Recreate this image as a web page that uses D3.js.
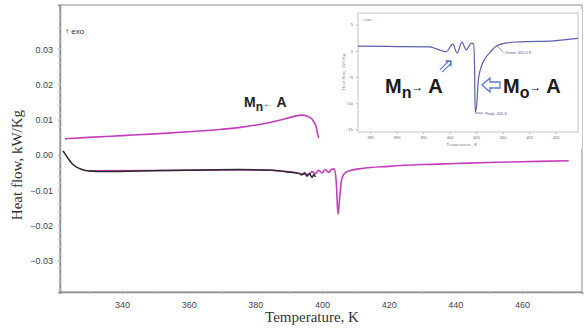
<!DOCTYPE html>
<html><head><meta charset="utf-8">
<script src="https://cdn.jsdelivr.net/npm/d3@7"></script>
<style>body{margin:0;background:#fff}svg{display:block}</style>
</head><body>
<svg id="c" width="584" height="328"></svg>
<script>
// ---------- data ----------
const xTickValues = [340, 360, 380, 400, 420, 440, 460];
const yTickValues = [-0.03, -0.02, -0.01, 0.00, 0.01, 0.02, 0.03];

// cooling curve (magenta, upper)
const coolTemp = [322.9, 330, 340, 350, 360, 370, 376, 382, 387.5, 391, 394, 396.5, 397.5, 398.3, 398.7, 399];
const coolFlow = [0.0046, 0.0050, 0.0055, 0.0060, 0.0066, 0.0073, 0.0079, 0.0088, 0.0099, 0.0108, 0.0113, 0.0106, 0.0095, 0.0078, 0.0060, 0.0048];

// first run (black)
const blackTemp = [322.3, 323, 324, 325, 326.5, 328, 330, 335, 345, 360, 375, 385, 390, 393, 394, 394.8, 395.5, 396.2, 397, 397.6, 398];
const blackFlow = [0.0012, 0.0002, -0.0012, -0.0024, -0.0035, -0.0041, -0.0045, -0.0047, -0.0045, -0.0043, -0.0041, -0.0043, -0.0048, -0.0052, -0.0056, -0.0050, -0.0060, -0.0052, -0.0063, -0.0055, -0.0062];

// heating curve (magenta, lower)
const heatTemp = [330, 350, 370, 385, 392, 396, 397, 398, 399, 400, 401, 402, 403, 403.8, 404.3, 404.8, 405.3, 405.8, 406.5, 408, 412, 420, 430, 440, 450, 460, 474];
const heatFlow = [-0.0045, -0.0044, -0.0042, -0.0043, -0.0050, -0.0055, -0.0047, -0.0053, -0.0043, -0.0051, -0.0041, -0.0049, -0.0040, -0.0040, -0.0080, -0.0168, -0.0120, -0.0075, -0.0055, -0.0045, -0.0038, -0.0032, -0.0027, -0.0024, -0.0021, -0.0019, -0.0016];

// inset curve
const insetXTicks = [385, 390, 395, 400, 405, 410, 415, 420];
const insetYTicks = [5, 0, -5, -10, -15];
const insetTemp = [382.7, 390, 396.3, 396.9, 398.5, 399.3, 400.6, 401.4, 402.3, 403.1, 404.1, 404.5, 404.7, 404.8, 405.1, 405.4, 405.9, 406.8, 407.7, 408.9, 410.8, 413.3, 419.6, 424.2];
const insetFlow = [0.9, 0.8, 0.75, 0.57, 0.0, -0.2, 1.26, -0.44, 1.64, 0.19, 1.45, 1.3, -3.6, -11.7, -10.2, -5.5, -3.2, -1.3, -0.2, 0.94, 1.5, 1.7, 1.9, 2.36];

// ---------- drawing ----------
const svg = d3.select("#c");
const W = 584, H = 328;
const m = {l: 60, r: 582, t: 5, b: 292};
const x = d3.scaleLinear().domain([321.4, 478]).range([m.l, m.r]);
const y = d3.scaleLinear().domain([-0.0388, 0.0425]).range([m.b, m.t]);

svg.append("rect").attr("width", W).attr("height", H).attr("fill", "#fff");

// frame
svg.append("rect").attr("x", m.l).attr("y", m.t).attr("width", m.r - m.l).attr("height", m.b - m.t)
  .attr("fill", "none").attr("stroke", "#a0a0a0").attr("stroke-width", 1.2);

// x axis
const xAxis = d3.axisBottom(x).tickValues(xTickValues).tickSize(2).tickPadding(8).tickFormat(d3.format("d"));
const gx = svg.append("g").attr("transform", `translate(0,${m.b})`).call(xAxis);
gx.select(".domain").attr("stroke", "#909090").attr("stroke-width", 1.5);
gx.selectAll(".tick line").attr("stroke", "#aaa");
gx.selectAll("text").attr("font-family", "Arial, Liberation Sans, sans-serif").attr("font-size", 9).attr("fill", "#444");
const xMinor = d3.range(330, 478, 10).filter(v => v % 20 !== 0);
svg.append("g").selectAll("line").data(xMinor).join("line")
  .attr("x1", d => x(d)).attr("x2", d => x(d)).attr("y1", m.b - 1).attr("y2", m.b + 2).attr("stroke", "#bbb");

// y axis
const yAxis = d3.axisLeft(y).tickValues(yTickValues).tickSize(2).tickPadding(5).tickFormat(d3.format(".2f"));
const gy = svg.append("g").attr("transform", `translate(${m.l},0)`).call(yAxis);
gy.select(".domain").attr("stroke", "#909090").attr("stroke-width", 1.5);
gy.selectAll(".tick line").attr("stroke", "#aaa");
gy.selectAll("text").attr("font-family", "Arial, Liberation Sans, sans-serif").attr("font-size", 9).attr("fill", "#444");
const yMinor = d3.range(-0.038, 0.042, 0.002);
svg.append("g").selectAll("line").data(yMinor).join("line")
  .attr("x1", m.l - 2).attr("x2", m.l + 1).attr("y1", d => y(d)).attr("y2", d => y(d)).attr("stroke", "#c8c8c8");

// axis titles
svg.append("text").attr("transform", `translate(22,165) rotate(-90)`).attr("text-anchor", "middle")
  .attr("font-family", "Liberation Serif, Times New Roman, serif").attr("font-size", 15).attr("fill", "#333")
  .text("Heat flow, kW/Kg");
svg.append("text").attr("x", 312).attr("y", 322).attr("text-anchor", "middle")
  .attr("font-family", "Liberation Serif, Times New Roman, serif").attr("font-size", 15).attr("fill", "#333")
  .text("Temperature, K");

svg.append("text").attr("x", 65).attr("y", 34).attr("font-family", "Arial, sans-serif").attr("font-size", 8).attr("fill", "#333").text("↑ exo");

// curves
const line = d3.line().x(d => x(d[0])).y(d => y(d[1])).curve(d3.curveMonotoneX);
const zipped = (a, b) => a.map((t, i) => [t, b[i]]);
svg.append("path").datum(zipped(heatTemp, heatFlow)).attr("d", line)
  .attr("fill", "none").attr("stroke", "#c63cbd").attr("stroke-width", 1.6);
svg.append("path").datum(zipped(blackTemp, blackFlow)).attr("d", line)
  .attr("fill", "none").attr("stroke", "#2a2a2a").attr("stroke-width", 1.5);
svg.append("path").datum(zipped(coolTemp, coolFlow)).attr("d", line)
  .attr("fill", "none").attr("stroke", "#c63cbd").attr("stroke-width", 1.6);

// Mn <- A label
const lab1 = svg.append("text").attr("x", 244).attr("y", 107).attr("font-family", "Arial, Liberation Sans, sans-serif")
  .attr("font-weight", "bold").attr("font-size", 14).attr("fill", "#222");
lab1.append("tspan").text("M");
lab1.append("tspan").attr("dy", 4).attr("font-size", 12).text("n");
lab1.append("tspan").attr("dy", -4).attr("font-size", 10).text("←");
lab1.append("tspan").attr("font-size", 14).text(" A");

// ---------- inset ----------
const ix = d3.scaleLinear().domain([382.7, 424.2]).range([358, 578]);
const iy = d3.scaleLinear().domain([-15.5, 7.2]).range([132, 13]);
svg.append("rect").attr("x", 336).attr("y", 9).attr("width", 246).attr("height", 140).attr("fill", "#fff");
svg.append("rect").attr("x", 358).attr("y", 13).attr("width", 220).attr("height", 119)
  .attr("fill", "none").attr("stroke", "#c4c4c4").attr("stroke-width", 1);
const ixa = svg.append("g").attr("transform", "translate(0,132)")
  .call(d3.axisBottom(ix).tickValues(insetXTicks).tickSize(2).tickPadding(2).tickFormat(d3.format("d")));
ixa.select(".domain").remove();
ixa.selectAll(".tick line").attr("stroke", "#bbb");
ixa.selectAll("text").attr("font-family", "Arial, sans-serif").attr("font-size", 4).attr("fill", "#666");
const iya = svg.append("g").attr("transform", "translate(358,0)")
  .call(d3.axisLeft(iy).tickValues(insetYTicks).tickSize(2).tickPadding(3));
iya.select(".domain").remove();
iya.selectAll(".tick line").attr("stroke", "#bbb");
iya.selectAll("text").attr("font-family", "Arial, sans-serif").attr("font-size", 4).attr("fill", "#666");
svg.append("text").attr("transform", "translate(345,72) rotate(-90)").attr("text-anchor", "middle")
  .attr("font-family", "Liberation Serif, serif").attr("font-size", 5).attr("fill", "#888").text("Heat flow, kW/Kg");
svg.append("text").attr("x", 462).attr("y", 146).attr("text-anchor", "middle")
  .attr("font-family", "Liberation Serif, serif").attr("font-size", 5).attr("fill", "#888").text("Temperature, K");
svg.append("text").attr("x", 362).attr("y", 21).attr("font-family", "Arial, sans-serif").attr("font-size", 4).attr("fill", "#777").text("↑ exo");

const iline = d3.line().x(d => ix(d[0])).y(d => iy(d[1])).curve(d3.curveMonotoneX);
svg.append("path").datum(zipped(insetTemp, insetFlow)).attr("d", iline)
  .attr("fill", "none").attr("stroke", "#5b5fae").attr("stroke-width", 1.2);

// peak / onset markers
const pk = [404.8, -11.7];
svg.append("line").attr("x1", ix(pk[0])).attr("x2", ix(pk[0]) + 8).attr("y1", iy(pk[1]) + 1).attr("y2", iy(pk[1]) + 1)
  .attr("stroke", "#5b5fae").attr("stroke-width", 0.8);
svg.append("text").attr("x", ix(pk[0]) + 10).attr("y", iy(pk[1]) + 3).attr("font-family", "Arial, sans-serif")
  .attr("font-size", 4).attr("fill", "#4a4e9e").text("Peak: 405.3");
svg.append("line").attr("x1", ix(408.9)).attr("x2", ix(410.2)).attr("y1", iy(0.9)).attr("y2", iy(-0.3))
  .attr("stroke", "#5b5fae").attr("stroke-width", 0.6);
svg.append("text").attr("x", ix(410.4)).attr("y", iy(-0.6)).attr("font-family", "Arial, sans-serif")
  .attr("font-size", 4).attr("fill", "#4a4e9e").text("Onset: 405.5 K");

// inset big labels
function bigLabel(xp, yp, sub) {
  const t = svg.append("text").attr("x", xp).attr("y", yp).attr("font-family", "Arial, Liberation Sans, sans-serif")
    .attr("font-weight", "bold").attr("font-size", 20).attr("fill", "#1a1a1a");
  t.append("tspan").text("M");
  t.append("tspan").attr("dy", 5).attr("font-size", 16).text(sub);
  t.append("tspan").attr("dy", -7).attr("font-size", 12).text("→");
  t.append("tspan").attr("dy", 2).attr("font-size", 20).text(" A");
}
bigLabel(385, 93, "n");
bigLabel(503, 93, "o");

// hollow arrows
svg.append("path")
  .attr("d", "M482,85 L490,78 L490,82 L500,82 L500,88 L490,88 L490,92 Z")
  .attr("fill", "#fff").attr("stroke", "#5d78cf").attr("stroke-width", 1.3).attr("stroke-linejoin", "miter");
svg.append("text").attr("x", 446).attr("y", 72).attr("text-anchor", "middle")
  .attr("font-family", "DejaVu Sans, sans-serif").attr("font-size", 20).attr("fill", "#5d78cf").text("⇗");
</script>
</body></html>
